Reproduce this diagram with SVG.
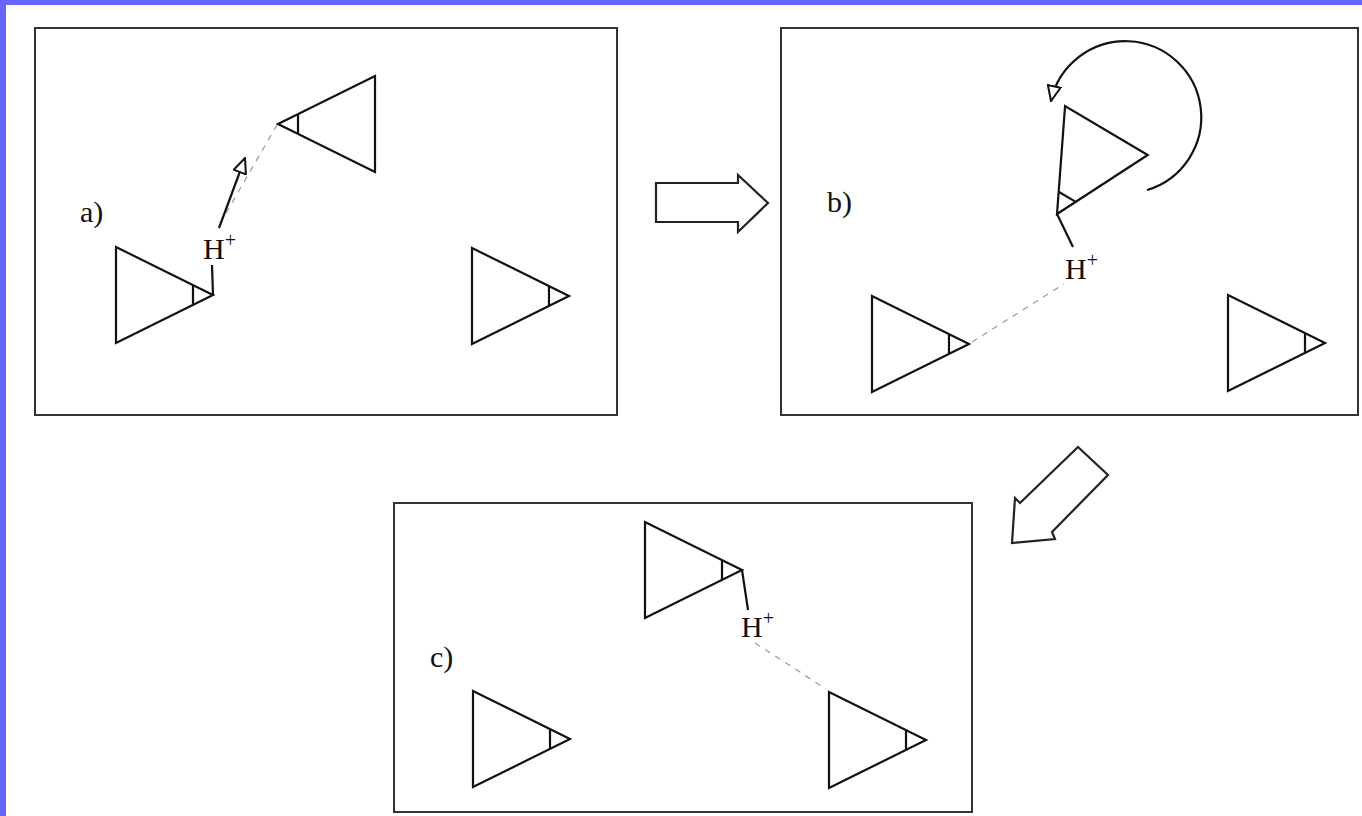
<svg xmlns="http://www.w3.org/2000/svg" xmlns:xlink="http://www.w3.org/1999/xlink" width="1362" height="816" viewBox="0 0 1362 816">
  <style>
    .frame { fill: none; stroke: #333; stroke-width: 2; }
    .mol polygon, .mol line { fill: none; stroke: #111; stroke-width: 2.2; stroke-linejoin: miter; }
    .bond { stroke: #111; stroke-width: 2.2; fill: none; }
    .hbond { stroke: #999; stroke-width: 1.2; stroke-dasharray: 6 6; fill: none; }
    .move { stroke: #111; stroke-width: 2.2; fill: none; marker-end: url(#openHead); }
    .step { fill: #fff; stroke: #222; stroke-width: 2.2; stroke-linejoin: miter; }
    .lbl { font-family: "Liberation Serif", "Times New Roman", serif; font-size: 30px; fill: #111; }
    .sup { font-size: 20px; }
  </style>
  <defs>
    <!-- one molecule: triangle with a short bar marking its donor/acceptor tip -->
    <g id="triMol" class="mol">
      <polygon points="0,0 0,96 97,48"/>
      <line x1="77" y1="38" x2="77" y2="58"/>
    </g>
    <marker id="openHead" markerUnits="userSpaceOnUse" viewBox="0 0 17 15" markerWidth="17" markerHeight="15" refX="16" refY="7.5" orient="auto">
      <path d="M1,1 L16,7.5 L1,14 Z" fill="#fff" stroke="#111" stroke-width="2" stroke-linejoin="miter"/>
    </marker>
  </defs>

  <rect x="0" y="0" width="1362" height="816" fill="#fff"/>
  <!-- page border -->
  <rect x="0" y="0" width="1362" height="5" fill="#6666ff"/>
  <rect x="0" y="0" width="6" height="816" fill="#6666ff"/>

  <!-- panel frames -->
  <g id="panel-a"><rect class="frame" x="35" y="28" width="582" height="387"/></g>
  <g id="panel-b"><rect class="frame" x="781" y="28" width="577" height="387"/></g>
  <g id="panel-c"><rect class="frame" x="394" y="503" width="578" height="309"/></g>

  <!-- step arrows -->
  <g id="step-ab"><polygon class="step" points="656,183 738,183 738,175 768,203 738,232 738,222 656,222"/></g>
  <g id="step-bc"><polygon class="step" points="1078,447 1108,475 1052,532 1055,539 1012,543 1015,498 1020,503"/></g>

  <!-- panel a molecules -->
  <g id="a-mol1"><use xlink:href="#triMol" href="#triMol" transform="translate(116,247)"/></g>
  <g id="a-mol2"><use xlink:href="#triMol" href="#triMol" transform="translate(375,76) scale(-1,1)"/></g>
  <g id="a-mol3"><use xlink:href="#triMol" href="#triMol" transform="translate(472,248)"/></g>

  <!-- panel b molecules -->
  <g id="b-mol1"><use xlink:href="#triMol" href="#triMol" transform="translate(872,296)"/></g>
  <g id="b-mol2"><use xlink:href="#triMol" href="#triMol" transform="translate(1057,214) rotate(120.6) translate(-97,-48)"/></g>
  <g id="b-mol3"><use xlink:href="#triMol" href="#triMol" transform="translate(1228,295)"/></g>

  <!-- panel c molecules -->
  <g id="c-mol1"><use xlink:href="#triMol" href="#triMol" transform="translate(645,522)"/></g>
  <g id="c-mol2"><use xlink:href="#triMol" href="#triMol" transform="translate(473,691)"/></g>
  <g id="c-mol3"><use xlink:href="#triMol" href="#triMol" transform="translate(829,692)"/></g>

  <!-- bonds, hydrogen bonds and motion arrows -->
  <g id="connectors">
    <line class="bond" x1="213" y1="295" x2="212" y2="265"/>
    <line class="hbond" x1="226" y1="213" x2="277" y2="125"/>
    <line class="move" x1="219" y1="228" x2="245" y2="158"/>

    <line class="hbond" x1="972" y1="342" x2="1064" y2="284"/>
    <line class="bond" x1="1073" y1="247" x2="1057" y2="214"/>
    <path class="move" d="M1147,190 A76,76 0 1 0 1051,101"/>

    <line class="bond" x1="742" y1="570" x2="748" y2="610"/>
    <line class="hbond" x1="755" y1="643" x2="826" y2="689"/>
  </g>

  <!-- labels -->
  <g id="labels">
    <text class="lbl" x="80" y="222">a)</text>
    <text class="lbl" x="827" y="212">b)</text>
    <text class="lbl" x="430" y="667">c)</text>
    <text class="lbl" x="203" y="259">H<tspan class="sup" dy="-12">+</tspan></text>
    <text class="lbl" x="1065" y="279">H<tspan class="sup" dy="-12">+</tspan></text>
    <text class="lbl" x="741" y="637">H<tspan class="sup" dy="-12">+</tspan></text>
  </g>
</svg>
